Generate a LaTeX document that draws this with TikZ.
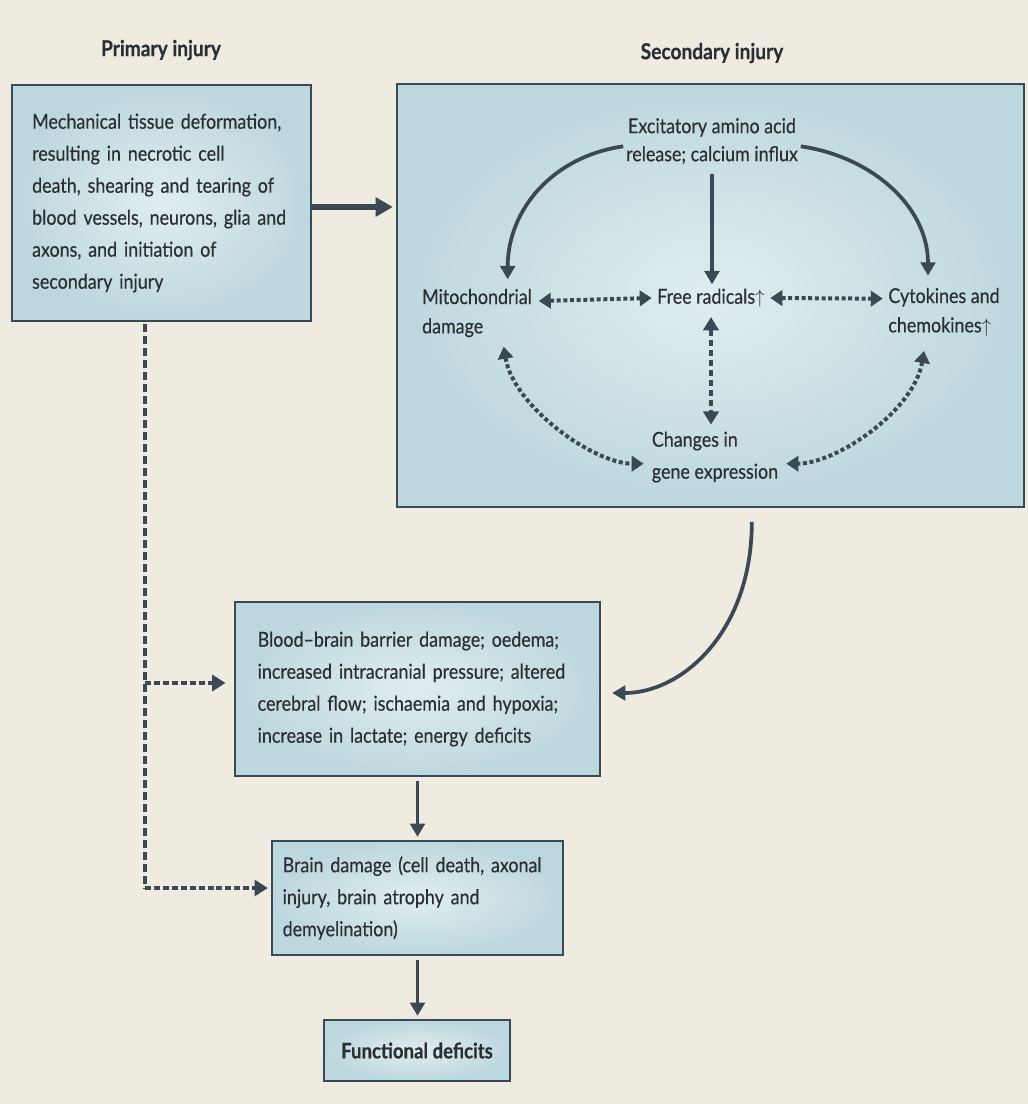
\documentclass[tikz,border=0pt]{standalone}
\usepackage{fontspec}
\setmainfont{Lato}[FakeStretch=0.87, FakeBold=0.35]
\usetikzlibrary{arrows.meta}
\definecolor{bg}{HTML}{EFEBE1}
\definecolor{ink}{HTML}{3A4954}
\definecolor{txt}{HTML}{2A2F34}
\definecolor{boxin}{HTML}{E0EDEF}
\definecolor{boxout}{HTML}{BDD7DE}
\newcommand{\bodyfont}{\fontsize{15.4}{24}\selectfont}
\tikzset{
  box/.style={rectangle, draw=ink, line width=2.2pt, inner color=boxin, outer color=boxout,
    align=left, text=txt, font=\bodyfont, inner ysep=0pt},
  lbl/.style={text=txt, font=\bodyfont, inner sep=1pt},
  ttl/.style={text=txt, font=\fontsize{16.5}{20}\selectfont\bfseries},
  solidarrow/.style={draw=ink, line width=2.8pt, -{Triangle[length=10pt, width=11pt]}},
  dotarrow/.style={draw=ink, line width=3pt, dash pattern=on 3pt off 2pt,
    {Triangle[length=9pt, width=11.5pt]}-{Triangle[length=9pt, width=11.5pt]}},
  dashline/.style={draw=ink, line width=3.6pt, dash pattern=on 6.5pt off 2.5pt},
  dasharrow/.style={draw=ink, line width=3.6pt, dash pattern=on 4.5pt off 2.2pt, -{Triangle[length=10pt, width=12pt]}}
}
\begin{document}
\begin{tikzpicture}[x=0.75pt, y=-0.75pt]
\useasboundingbox (0,0) rectangle (1028,1104);
\fill[bg] (0,0) rectangle (1028,1104);

% titles
\node[ttl] (t1) at (161,50) {Primary injury};
\node[ttl] (t2) at (712,53) {Secondary injury};

% boxes
\node[box, minimum width=224.25pt, minimum height=177pt, text width=194pt, inner xsep=15pt] (prim) at (161.5,203)
  {Mechanical tissue deformation,\\resulting in necrotic cell\\death, shearing and tearing of\\blood vessels, neurons, glia and\\axons, and initiation of\\secondary injury};
\node[box, minimum width=470.25pt, minimum height=317.25pt] (sec) at (710.5,295.5) {};
\node[box, minimum width=273.75pt, minimum height=130.5pt, text width=239.75pt, inner xsep=17pt] (bbb) at (417.5,689)
  {Blood--brain barrier damage; oedema;\\increased intracranial pressure; altered\\cerebral flow; ischaemia and hypoxia;\\increase in lactate; energy deficits};
\node[box, minimum width=218.25pt, minimum height=85.5pt, text width=202.25pt, inner xsep=8pt] (brain) at (417.5,898)
  {Brain damage (cell death, axonal\\injury, brain atrophy and\\demyelination)};
\node[box, minimum width=139.5pt, minimum height=45.75pt, align=center, font=\fontsize{16}{20}\selectfont\bfseries] (func) at (417,1050.5)
  {Functional deficits};

% inner nodes of secondary injury
\node[lbl, align=center, font=\fontsize{15.4}{21}\selectfont] (exc) at (712,141) {Excitatory amino acid\\release; calcium influx};
\node[lbl] (fr) at (711,298) {Free radicals$\uparrow$};
\node[lbl, align=left, font=\fontsize{15.4}{22}\selectfont] (mito) at (477,313) {Mitochondrial\\damage};
\node[lbl, align=left, font=\fontsize{15.4}{22}\selectfont] (cyto) at (944,312) {Cytokines and\\chemokines$\uparrow$};
\node[lbl, align=left, font=\fontsize{15.4}{24}\selectfont] (gene) at (715,457) {Changes in\\gene expression};

% arrows inside
\draw[solidarrow] ([xshift=-1pt,yshift=-4pt]exc.west) .. controls +(-70,10) and +(0,-70) .. ([xshift=23pt,yshift=6pt]mito.north);
\draw[solidarrow] ([xshift=1pt,yshift=-4pt]exc.east) .. controls +(70,10) and +(0,-70) .. ([xshift=-12pt,yshift=8pt]cyto.north);
\draw[solidarrow] ([yshift=-6pt]exc.south) -- ([yshift=2pt]exc.south |- fr.north);
\draw[dotarrow] ([xshift=4pt,yshift=9pt]mito.east) -- ([xshift=-3pt]fr.west);
\draw[dotarrow] ([xshift=3pt]fr.east) -- ([xshift=-3pt,yshift=10pt]cyto.west);
\draw[draw=ink, line width=3pt, dash pattern=on 5pt off 2.5pt, {Triangle[length=10pt, width=11.5pt]}-{Triangle[length=10pt, width=11.5pt]}]
  ([yshift=-6pt]fr.south) -- ([yshift=4pt]fr.south |- gene.north);
\draw[dotarrow] ([xshift=20pt,yshift=-6pt]mito.south) .. controls +(10,60) and +(-50,0) .. ([xshift=-5pt,yshift=-5pt]gene.west);
\draw[dotarrow] ([xshift=-15pt,yshift=-10pt]cyto.south) .. controls +(-10,60) and +(50,0) .. ([xshift=5pt,yshift=-5pt]gene.east);

% main flow
\draw[ink, line width=4.5pt, -{Triangle[length=13pt, width=14pt]}] ([yshift=-3pt]prim.east) -- ([yshift=-3pt, xshift=-2pt]prim.east -| sec.west);
\draw[solidarrow] ([xshift=31pt, yshift=-10pt]sec.south) .. controls +(0,110) and +(70,0) .. ([xshift=8pt, yshift=-3pt]bbb.east);
\draw[solidarrow] ([yshift=-3pt]bbb.south) -- ([yshift=2pt]bbb.south |- brain.north);
\draw[solidarrow] ([yshift=-3pt]brain.south) -- ([yshift=2pt]brain.south |- func.north);

% dashed primary links
\coordinate (c1) at (145,888);
\coordinate (c2) at (145,683);
\draw[dashline] ([yshift=-1pt]prim.south -| c1) -- (c1);
\draw[dasharrow] (c2) -- ([xshift=-6pt]c2 -| bbb.west);
\draw[dasharrow] (c1) -- ([xshift=-2pt]c1 -| brain.west);
\end{tikzpicture}
\end{document}
